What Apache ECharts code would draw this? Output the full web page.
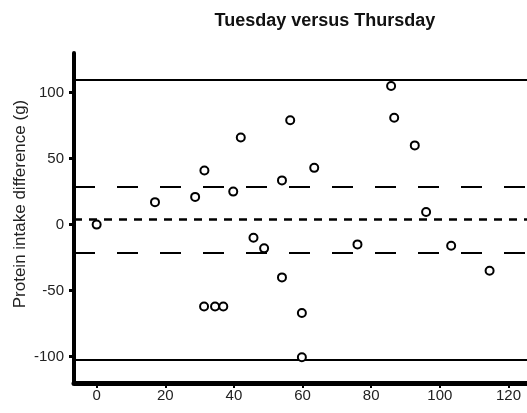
<!DOCTYPE html>
<html>
<head>
<meta charset="utf-8">
<script src="https://cdn.jsdelivr.net/npm/echarts@6/dist/echarts.min.js"></script>
<style>
  html, body { margin: 0; padding: 0; background: #fff; }
  #chart { width: 527px; height: 413px; }
</style>
</head>
<body>
<div id="chart"></div>
<script>
// Bland-Altman style plot: Tuesday vs Thursday protein intake
const xTicks = [0, 20, 40, 60, 80, 100, 120]
const yTicks = [-100, -50, 0, 50, 100]

const xValues = [0, 17, 28.7, 31.4, 42, 56.4, 39.8, 54, 63.4, 85.8, 86.7, 92.7,
  96, 45.7, 48.8, 76, 103.3, 54, 31.3, 34.5, 36.9, 59.8, 59.8, 114.5]
const yValues = [0, 17, 21, 41, 66, 79, 25, 33.5, 43, 105, 81, 60,
  9.5, -10, -18, -15, -16, -40, -62, -62, -62, -67, -100.5, -35]

const meanDiff = 3.75
const sdBand = [28.75, -21.25]     // mean ± 1 SD
const limits = [110, -102.5]       // limits of agreement

const font = "Liberation Sans, Arial, sans-serif"
const chart = echarts.init(document.getElementById("chart"), null, { renderer: "canvas" })

const points = xValues.map((x, i) => [x, yValues[i]])

chart.setOption({
  backgroundColor: "#fff",
  animation: false,
  grid: { left: 74, right: 0, top: 53, bottom: 30, containLabel: false },
  graphic: [
    {
      type: "text", x: 325, y: 21,
      style: {
        text: "Tuesday versus Thursday", fill: "#111",
        font: "bold 18px " + font, textAlign: "center", textVerticalAlign: "middle"
      }
    },
    {
      type: "text", x: 20, y: 204, rotation: Math.PI / 2,
      style: {
        text: "Protein intake difference (g)", fill: "#222",
        font: "17px " + font, textAlign: "center", textVerticalAlign: "middle"
      }
    }
  ],
  xAxis: {
    type: "value", min: -6.6, max: 125.4,
    splitLine: { show: false },
    axisLine: { onZero: false, lineStyle: { color: "#000", width: 5 } },
    axisTick: { customValues: xTicks, length: 5, lineStyle: { color: "#000", width: 2 } },
    axisLabel: { customValues: xTicks, color: "#222", fontSize: 15, fontFamily: font, margin: 5 }
  },
  yAxis: {
    type: "value", min: -120, max: 130,
    splitLine: { show: false },
    axisLine: { show: true, onZero: false, lineStyle: { color: "#000", width: 4 } },
    axisTick: { show: true, customValues: yTicks, length: 5, lineStyle: { color: "#000", width: 3 } },
    axisLabel: { customValues: yTicks, color: "#222", fontSize: 15, fontFamily: font, margin: 10 }
  },
  series: [{
    type: "scatter",
    data: points,
    symbol: "circle",
    symbolSize: 8,
    itemStyle: { color: "#fff", borderColor: "#000", borderWidth: 2, opacity: 1 },
    z: 5,
    markLine: {
      silent: true,
      symbol: "none",
      label: { show: false },
      z: 2,
      data: [
        { yAxis: limits[0], lineStyle: { type: "solid", color: "#000", width: 2 } },
        { yAxis: limits[1], lineStyle: { type: "solid", color: "#000", width: 2 } },
        { yAxis: sdBand[0], lineStyle: { type: [21, 22], color: "#000", width: 2 } },
        { yAxis: sdBand[1], lineStyle: { type: [21, 22], color: "#000", width: 2 } },
        { yAxis: meanDiff, lineStyle: { type: [8, 7], color: "#000", width: 2.5 } }
      ]
    }
  }]
})
</script>
</body>
</html>
